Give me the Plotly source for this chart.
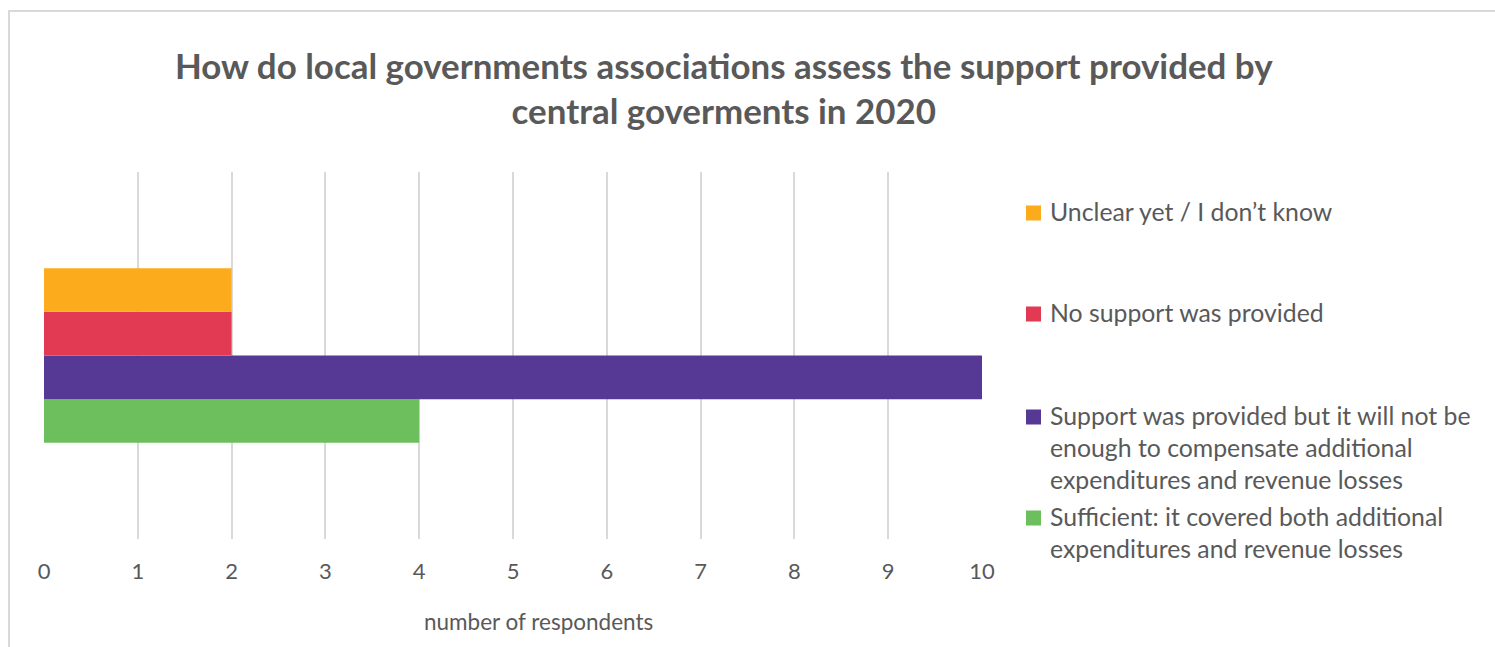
import plotly.graph_objects as go

W, H = 1495, 647

title_lines = [
    "How do local governments associations assess the support provided by",
    "central goverments in 2020",
]
category = ["2020"]
series_names = [
    "Sufficient: it covered both additional<br>expenditures and revenue losses",
    "Support was provided but it will not be<br>enough to compensate additional<br>expenditures and revenue losses",
    "No support was provided",
    "Unclear yet / I don\u2019t know",
]
series_values = [4, 10, 2, 2]
series_colors = ["#6cbf5c", "#563895", "#e13a52", "#fbab1b"]
x_ticks = list(range(0, 11))
x_title = "number of respondents"

FONT = "Lato"
GREY = "#595959"


def px_x(p):
    return p / W


def px_y(p):
    return 1 - p / H


fig = go.Figure()
for name, val, col in zip(series_names, series_values, series_colors):
    fig.add_trace(go.Bar(
        y=category, x=[val], name=name, orientation="h",
        marker=dict(color=col, line=dict(width=0)),
        showlegend=False,
    ))

fig.update_layout(
    width=W, height=H,
    margin=dict(l=0, r=0, t=0, b=0, autoexpand=False),
    paper_bgcolor="white", plot_bgcolor="white",
    barmode="group", bargap=0.524, bargroupgap=0,
    font=dict(family=FONT, color=GREY),
    xaxis=dict(
        domain=[px_x(44), px_x(982)], range=[0, 10],
        tickvals=x_ticks, ticktext=[str(t) for t in x_ticks],
        showgrid=True, gridcolor="#d9d9d9", gridwidth=1.5,
        zeroline=False, showline=False, ticks="",
        tickfont=dict(size=22, color=GREY, family=FONT),
        anchor="y", ticklabelstandoff=17, automargin=False,
    ),
    yaxis=dict(
        domain=[px_y(539), px_y(172)], automargin=False,
        showticklabels=False, showgrid=False, zeroline=False, showline=False,
    ),
)

# chart frame
fig.add_shape(type="rect", xref="paper", yref="paper",
              x0=px_x(9), x1=px_x(W + 20), y0=px_y(H + 20), y1=px_y(11),
              line=dict(color="#d9d9d9", width=2), fillcolor="rgba(0,0,0,0)")

# title
fig.add_annotation(
    text="<br>".join(title_lines), xref="paper", yref="paper",
    x=px_x(724), y=px_y(88), xanchor="center", yanchor="middle",
    showarrow=False, align="center",
    font=dict(family=FONT, size=34.9, color=GREY, weight="bold"),
)

# axis title
fig.add_annotation(
    text=x_title, xref="paper", yref="paper",
    x=px_x(538), y=px_y(621), xanchor="center", yanchor="middle",
    showarrow=False, font=dict(family=FONT, size=22.5, color=GREY),
)

# legend entries, top to bottom
legend_first_line_y = [213, 314, 417, 518]
order = [3, 2, 1, 0]
for yy, idx in zip(legend_first_line_y, order):
    fig.add_shape(type="rect", xref="paper", yref="paper",
                  x0=px_x(1026), x1=px_x(1041), y0=px_y(yy + 7.5), y1=px_y(yy - 7.5),
                  line=dict(width=0), fillcolor=series_colors[idx])
    fig.add_annotation(
        text=series_names[idx], xref="paper", yref="paper",
        x=px_x(1048), y=px_y(yy - 18), xanchor="left", yanchor="top",
        showarrow=False, align="left",
        font=dict(family=FONT, size=24.8, color=GREY),
    )

fig.write_html("out.html")
